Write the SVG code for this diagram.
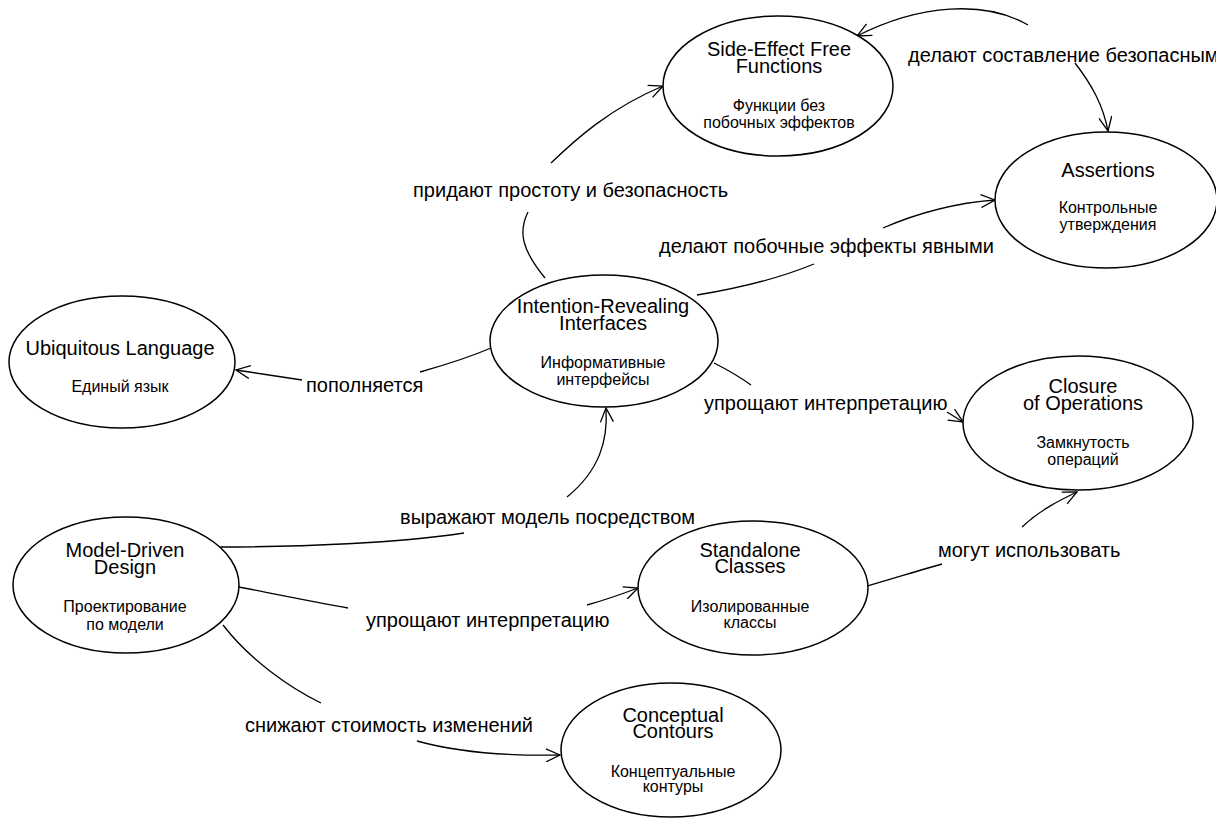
<svg xmlns="http://www.w3.org/2000/svg" width="1216" height="818" viewBox="0 0 1216 818">
<defs>
<style>
.n{fill:#fff;stroke:#000;stroke-width:1.5}
.t{font-family:"Liberation Sans",Arial,sans-serif;font-size:20px;fill:#000;text-anchor:middle}
.s{font-family:"Liberation Sans",Arial,sans-serif;font-size:16px;fill:#000;text-anchor:middle}
.l{font-family:"Liberation Sans",Arial,sans-serif;font-size:20px;fill:#000}
.c{fill:none;stroke:#000;stroke-width:1.3}
</style>
<marker id="a" markerUnits="userSpaceOnUse" markerWidth="16" markerHeight="14" refX="15" refY="7" orient="auto">
<path d="M1,0.5 L15,7 L1,13.5" fill="none" stroke="#000" stroke-width="1.3"/>
</marker>
</defs>
<rect width="1216" height="818" fill="#fff"/>
<g id="connectors">
<path class="c" d="M545 278 C522 250 518 232 528 212"/>
<path class="c" d="M551 163 C575 140 610 108 663 86" marker-end="url(#a)"/>
<path class="c" d="M1028 25 C985 0 920 4 857 36" marker-end="url(#a)"/>
<path class="c" d="M1075 63 C1092 85 1103 105 1108 131" marker-end="url(#a)"/>
<path class="c" d="M697 295 C740 288 780 278 814 264"/>
<path class="c" d="M883 228 C920 212 955 203 995 200" marker-end="url(#a)"/>
<path class="c" d="M491 348 C470 357 445 365 420 372"/>
<path class="c" d="M302 380 C282 377 262 374 236 370" marker-end="url(#a)"/>
<path class="c" d="M714 363 C728 370 740 377 751 385"/>
<path class="c" d="M947 412 L963 422" marker-end="url(#a)"/>
<path class="c" d="M217 547 C300 547 400 543 464 533"/>
<path class="c" d="M567 497 C600 470 608 440 606 408" marker-end="url(#a)"/>
<path class="c" d="M239 587 C280 595 320 603 348 608"/>
<path class="c" d="M587 605 C605 600 622 594 638 588" marker-end="url(#a)"/>
<path class="c" d="M223 625 C250 660 290 688 321 703"/>
<path class="c" d="M417 741 C460 753 510 756 560 755" marker-end="url(#a)"/>
<path class="c" d="M867 586 C895 578 920 570 942 564"/>
<path class="c" d="M1022 527 C1040 510 1060 500 1077 492" marker-end="url(#a)"/>
<text class="l" x="413" y="197">придают простоту и безопасность</text>
<text class="l" x="908" y="62">делают составление безопасным</text>
<text class="l" x="659" y="253">делают побочные эффекты явными</text>
<text class="l" x="306" y="392">пополняется</text>
<text class="l" x="704" y="410">упрощают интерпретацию</text>
<text class="l" x="400" y="524">выражают модель посредством</text>
<text class="l" x="366" y="627">упрощают интерпретацию</text>
<text class="l" x="938" y="557">могут использовать</text>
<text class="l" x="245" y="732">снижают стоимость изменений</text>
</g>
<g id="side-effect">
<ellipse class="n" cx="778" cy="86" rx="115" ry="70"/>
<text class="t" x="779" y="56">Side-Effect Free</text>
<text class="t" x="779" y="73">Functions</text>
<text class="s" x="779" y="111">Функции без</text>
<text class="s" x="779" y="128">побочных эффектов</text>
</g>
<g id="assertions">
<ellipse class="n" cx="1106" cy="200" rx="111" ry="68"/>
<text class="t" x="1108" y="177">Assertions</text>
<text class="s" x="1108" y="213">Контрольные</text>
<text class="s" x="1108" y="230">утверждения</text>
</g>
<g id="intention">
<ellipse class="n" cx="604" cy="341" rx="114" ry="66"/>
<text class="t" x="603" y="313">Intention-Revealing</text>
<text class="t" x="603" y="330">Interfaces</text>
<text class="s" x="603" y="368">Информативные</text>
<text class="s" x="603" y="385">интерфейсы</text>
</g>
<g id="ubiquitous">
<ellipse class="n" cx="122" cy="362" rx="113" ry="66"/>
<text class="t" x="120" y="355">Ubiquitous Language</text>
<text class="s" x="120" y="392">Единый язык</text>
</g>
<g id="closure">
<ellipse class="n" cx="1078" cy="423" rx="115" ry="67"/>
<text class="t" x="1083" y="393">Closure</text>
<text class="t" x="1083" y="410">of Operations</text>
<text class="s" x="1083" y="448">Замкнутость</text>
<text class="s" x="1083" y="465">операций</text>
</g>
<g id="model-driven">
<ellipse class="n" cx="126" cy="585" rx="113" ry="68"/>
<text class="t" x="125" y="557">Model-Driven</text>
<text class="t" x="125" y="574">Design</text>
<text class="s" x="125" y="612">Проектирование</text>
<text class="s" x="125" y="630">по модели</text>
</g>
<g id="standalone">
<ellipse class="n" cx="753" cy="588" rx="115" ry="67"/>
<text class="t" x="750" y="557">Standalone</text>
<text class="t" x="750" y="573">Classes</text>
<text class="s" x="750" y="612">Изолированные</text>
<text class="s" x="750" y="628">классы</text>
</g>
<g id="conceptual">
<ellipse class="n" cx="671" cy="750" rx="110" ry="67"/>
<text class="t" x="673" y="722">Conceptual</text>
<text class="t" x="673" y="738">Contours</text>
<text class="s" x="673" y="777">Концептуальные</text>
<text class="s" x="673" y="792">контуры</text>
</g>
</svg>
